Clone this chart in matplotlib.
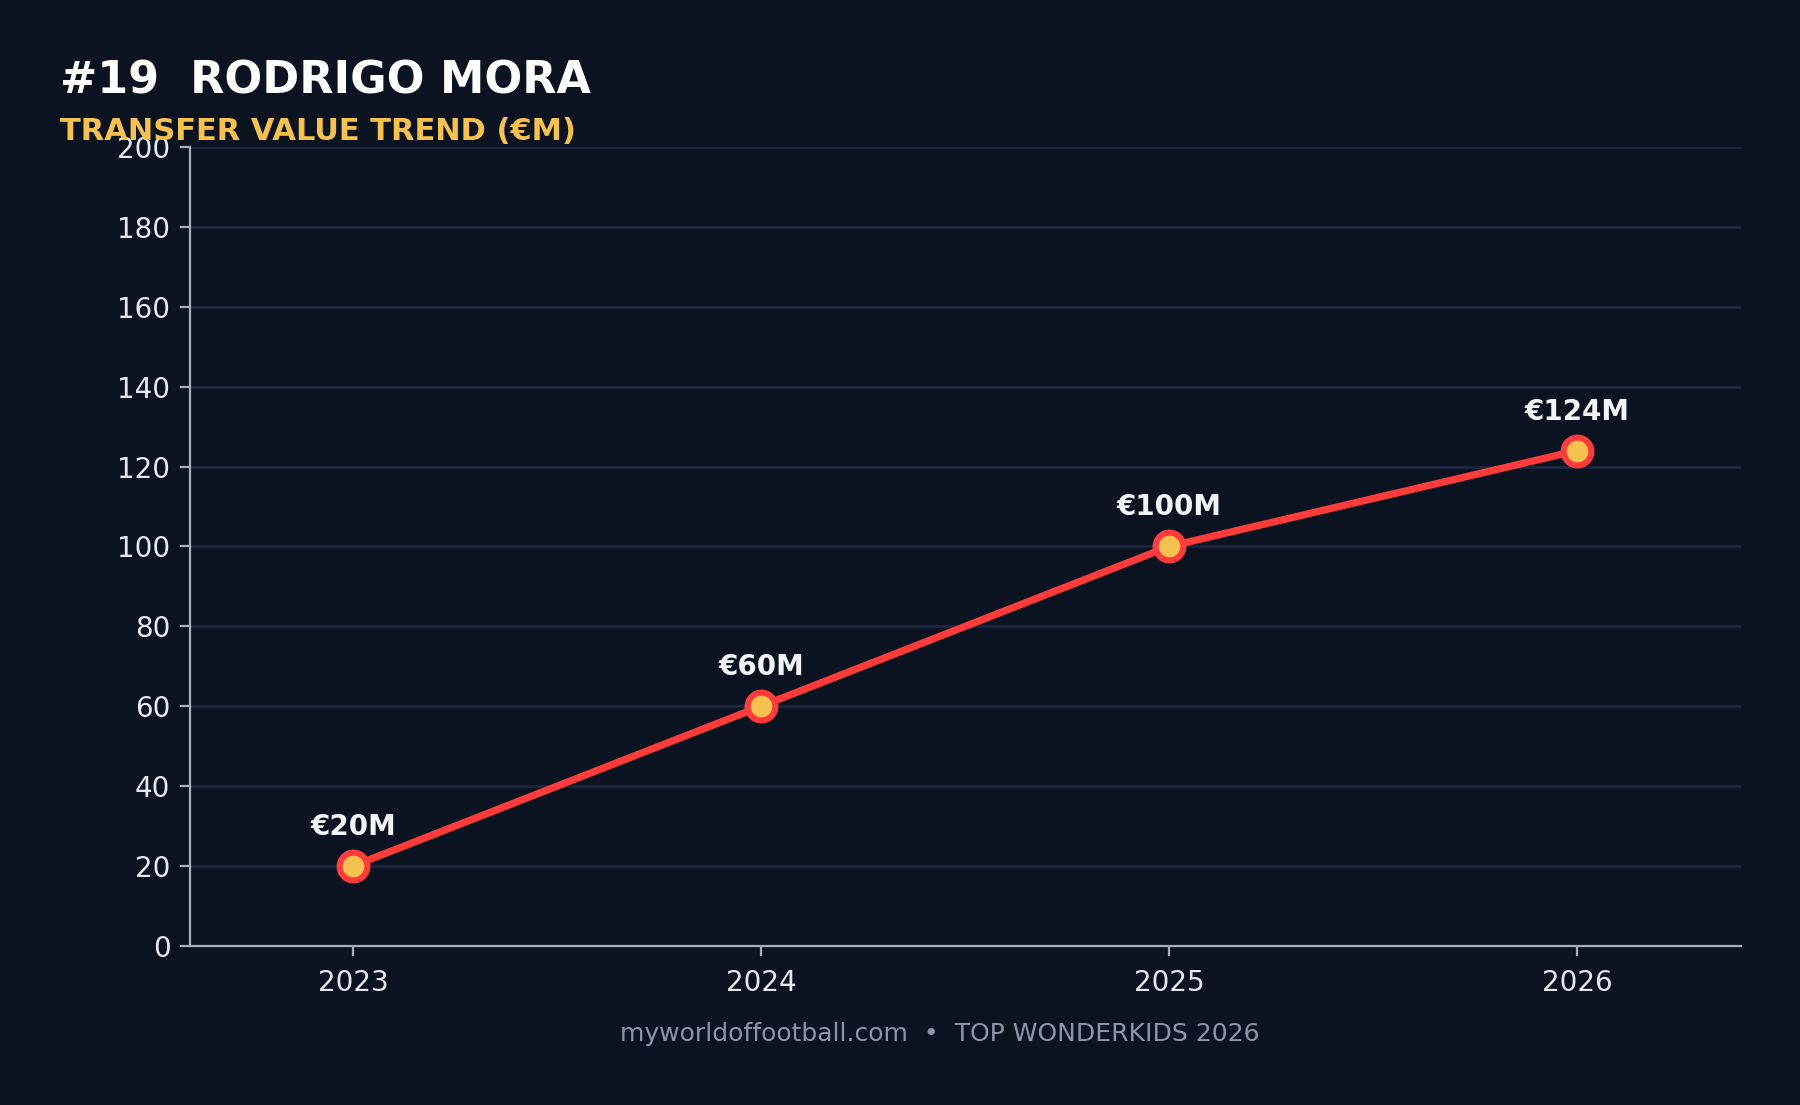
import matplotlib
matplotlib.use('Agg')
import matplotlib.pyplot as plt

# data
years = [2023, 2024, 2025, 2026]
values = [20, 60, 100, 124]
labels = ['€20M', '€60M', '€100M', '€124M']

BG = '#0b1220'
GRID = '#1c2640'
RED = '#ff3b3b'
GOLD = '#f5c14f'

fig = plt.figure(figsize=(9, 5.525), dpi=200, facecolor=BG)
ax = fig.add_axes([0.1055, 0.144, 0.8615, 0.723], facecolor=BG)

ax.plot(years, values, color=RED, linewidth=2.6, marker='o', markersize=10,
        markerfacecolor=GOLD, markeredgecolor=RED, markeredgewidth=2.2, zorder=3)

for x, y, lab in zip(years, values, labels):
    ax.annotate(lab, (x, y), xytext=(0, 9), textcoords='offset points',
                ha='center', va='bottom', fontsize=10, fontweight='bold', color='#f2f4f8')

ax.set_xlim(2022.6, 2026.4)
ax.set_ylim(0, 200)
ax.set_xticks(years)
ax.set_yticks(range(0, 201, 20))
ax.grid(axis='y', color=GRID, linewidth=1.0)
ax.set_axisbelow(True)
ax.tick_params(colors='#a9b0bd', labelcolor='#e6e9ef', labelsize=10)
ax.tick_params(axis='x', pad=5)
for s in ['top', 'right']:
    ax.spines[s].set_visible(False)
for s in ['left', 'bottom']:
    ax.spines[s].set_color('#a9b0bd')
    ax.spines[s].set_linewidth(0.8)

fig.text(0.0333, 0.915, '#19  RODRIGO MORA', fontsize=16, fontweight='bold',
         color='white', va='baseline')
fig.text(0.0333, 0.873, 'TRANSFER VALUE TREND (€M)', fontsize=11, fontweight='bold',
         color=GOLD, va='baseline')
fig.text(0.522, 0.064, 'myworldoffootball.com  •  TOP WONDERKIDS 2026', fontsize=9,
         color='#8a96a8', ha='center', va='center')

fig.savefig('out.png', dpi=200, facecolor=BG)
